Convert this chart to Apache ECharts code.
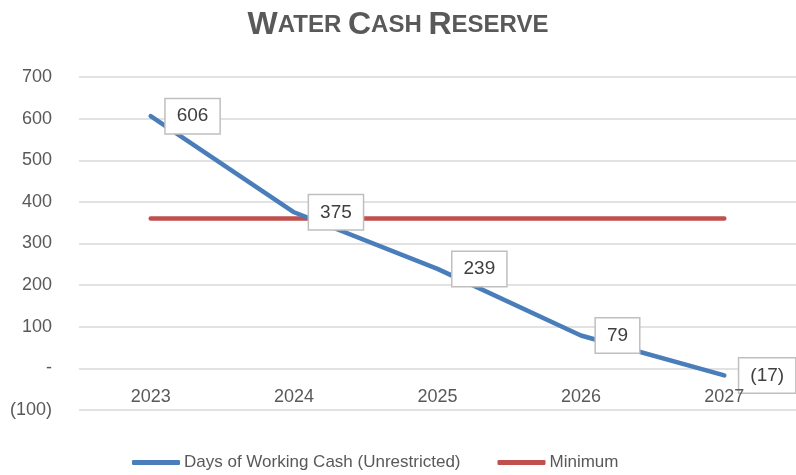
<!DOCTYPE html>
<html>
<head>
<meta charset="utf-8">
<script src="https://cdn.jsdelivr.net/npm/echarts@6/dist/echarts.min.js"></script>
<style>
  html, body { margin: 0; padding: 0; background: #fff; }
  #main { width: 796px; height: 475px; }
</style>
</head>
<body>
<div id="main"></div>
<script>
var years = ['2023', '2024', '2025', '2026', '2027'];
var workingCash = [606, 375, 239, 79, -17];
var minimum = [360, 360, 360, 360, 360];

var FONT = '"Liberation Sans Narrow", "Liberation Sans", Arial, sans-serif';

// grid
var GRID_TOP = 77, GRID_BOTTOM = 65, Y_MIN = -100, Y_MAX = 700;
var plotH = 475 - GRID_TOP - GRID_BOTTOM;
// category labels sit on the zero line, like the excel chart
var zeroOffset = -plotH * (0 - Y_MIN) / (Y_MAX - Y_MIN);

function fmtNum(v) {
    if (v === 0) return '-';
    if (v < 0) return '(' + Math.abs(v) + ')';
    return String(v);
}

var mychart = echarts.init(document.getElementById('main'));

var option = {
    textStyle: { fontFamily: FONT },
    color: ['#4a7ebb', '#c0504d'],
    title: {
        text: '{b|W}{s|ATER }{b|C}{s|ASH }{b|R}{s|ESERVE}',
        left: 'center',
        top: 4,
        textStyle: {
            rich: {
                b: { fontSize: 32, fontWeight: 'bold', color: '#595959', fontFamily: FONT },
                s: { fontSize: 24, fontWeight: 'bold', color: '#595959', fontFamily: FONT }
            }
        }
    },
    legend: {
        bottom: 0,
        left: 127,
        padding: [5, 5, 4, 5],
        icon: 'roundRect',
        itemWidth: 48,
        itemHeight: 5,
        itemGap: 37,
        textStyle: { fontSize: 17, color: '#595959', fontFamily: FONT, padding: [0, 0, 0, -1] },
        data: ['Days of Working Cash (Unrestricted)', 'Minimum']
    },
    grid: {
        left: 79,
        right: 0,
        top: GRID_TOP,
        bottom: GRID_BOTTOM,
        containLabel: false
    },
    xAxis: {
        type: 'category',
        data: years,
        offset: zeroOffset,
        z: 10,
        axisLine: { show: false },
        axisTick: { show: false },
        axisLabel: { fontSize: 18, color: '#595959', margin: 20 }
    },
    yAxis: {
        type: 'value',
        min: Y_MIN,
        max: Y_MAX,
        interval: 100,
        axisLine: { show: false },
        axisTick: { show: false },
        axisLabel: {
            fontSize: 18,
            color: '#595959',
            margin: 27,
            formatter: fmtNum
        },
        splitLine: { lineStyle: { color: '#d9d9d9', width: 1.5 } }
    },
    series: [
        {
            name: 'Days of Working Cash (Unrestricted)',
            type: 'line',
            data: workingCash,
            symbol: 'circle',
            symbolSize: 0,
            showSymbol: true,
            lineStyle: { width: 4.5, color: '#4a7ebb', cap: 'round' },
            itemStyle: { color: '#4a7ebb' },
            z: 3,
            label: {
                show: true,
                position: 'right',
                distance: 15,
                fontSize: 19,
                color: '#404040',
                backgroundColor: '#ffffff',
                borderColor: '#bfbfbf',
                borderWidth: 1.5,
                padding: [8, 11, 7, 11],
                formatter: function (p) { return fmtNum(p.value); }
            }
        },
        {
            name: 'Minimum',
            type: 'line',
            data: minimum,
            symbol: 'none',
            lineStyle: { width: 4.5, color: '#c0504d', cap: 'round' },
            itemStyle: { color: '#c0504d' },
            z: 2
        }
    ]
};

mychart.setOption(option);
</script>
</body>
</html>
